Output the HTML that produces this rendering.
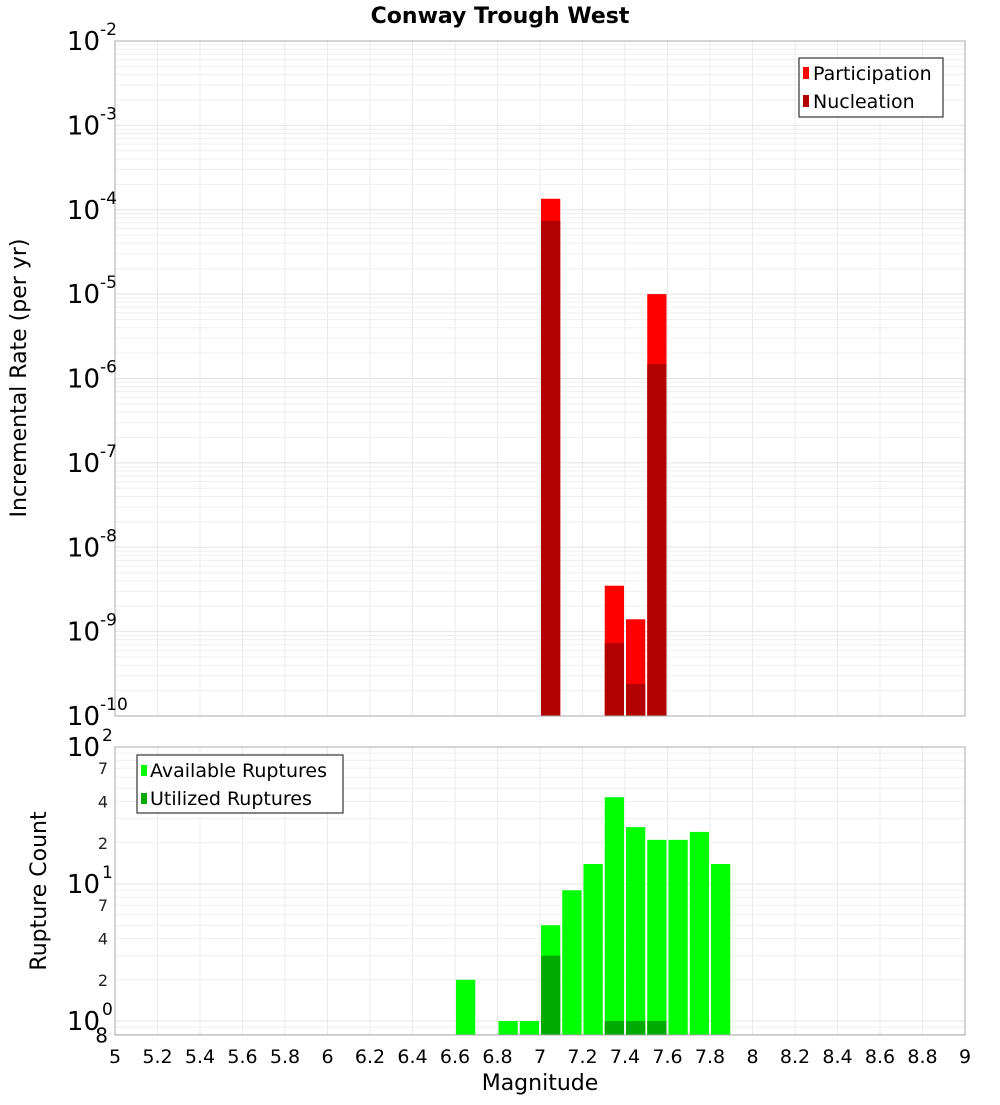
<!DOCTYPE html>
<html><head><meta charset="utf-8"><style>
body{margin:0;background:#fff;}
svg text{font-family:"DejaVu Sans","Liberation Sans",sans-serif;}
</style></head><body>
<svg id="c" width="1000" height="1100" xmlns="http://www.w3.org/2000/svg">
<text x="500" y="23" text-anchor="middle" font-size="22" font-weight="bold">Conway Trough West</text>
<g id="topPlot"></g>
<g id="botPlot"></g>
<text transform="translate(26,378) rotate(-90)" text-anchor="middle" font-size="22">Incremental Rate (per yr)</text>
<text transform="translate(46,891) rotate(-90)" text-anchor="middle" font-size="22">Rupture Count</text>
<text x="540" y="1090" text-anchor="middle" font-size="22">Magnitude</text>
<g>
<rect x="799" y="58" width="144" height="59" fill="#fff" stroke="#333" stroke-width="1.2"/>
<rect x="803" y="67" width="6" height="12" fill="#ff0000"/>
<text x="813" y="80" font-size="19">Participation</text>
<rect x="803" y="95" width="6" height="12" fill="#b30000"/>
<text x="813" y="108" font-size="19">Nucleation</text>
</g>
<g>
<rect x="137" y="755" width="206" height="58" fill="#fff" stroke="#333" stroke-width="1.2"/>
<rect x="141" y="765" width="6" height="11" fill="#00ff00"/>
<text x="150" y="777" font-size="19">Available Ruptures</text>
<rect x="141" y="793" width="6" height="11" fill="#00aa00"/>
<text x="150" y="805" font-size="19">Utilized Ruptures</text>
</g>
</svg>
<script>
const topMags=[7.05,7.35,7.45,7.55];
const participation=[1.35e-4,3.5e-9,1.4e-9,1.0e-5];
const nucleation=[7.4e-5,7.3e-10,2.4e-10,1.48e-6];
const botMags=[6.65,6.85,6.95,7.05,7.15,7.25,7.35,7.45,7.55,7.65,7.75,7.85];
const available=[2,1,1,5,9,14,43,26,21,21,24,14];
const utilMags=[7.05,7.35,7.45,7.55];
const utilized=[3,1,1,1];
const xTicks=[5,5.2,5.4,5.6,5.8,6,6.2,6.4,6.6,6.8,7,7.2,7.4,7.6,7.8,8,8.2,8.4,8.6,8.8,9];

const NS="http://www.w3.org/2000/svg";
const L=115,R=965;
const xs=m=>L+(m-5)/4*(R-L);
const T1=41,B1=716;
const yTop=v=>B1-(Math.log10(v)+10)/8*(B1-T1);
const T2=747,B2=1035,D2=137;
const yBot=v=>(T2+2*D2)-Math.log10(v)*D2;
function el(p,tag,a,txt){const e=document.createElementNS(NS,tag);for(const k in a)e.setAttribute(k,a[k]);if(txt!==undefined)e.textContent=txt;p.appendChild(e);return e;}
const topG=document.getElementById('topPlot'),botG=document.getElementById('botPlot');
function grid(g,t,b,yf,dmin,dmax){
  for(const m of xTicks){const l=el(g,'line',{x1:xs(m),x2:xs(m),y1:t,y2:b,stroke:'#ebebeb'});}
  for(let d=dmin;d<=dmax;d++)for(let k=1;k<10;k++){const yy=yf(k*Math.pow(10,d));if(yy<t-0.5||yy>b+0.5)continue;const l=el(g,'line',{x1:L,x2:R,y1:yy,y2:yy,stroke:k==1?'#e4e4e4':'#efefef'});}
}
grid(topG,T1,B1,yTop,-10,-2);
grid(botG,T2,B2,yBot,-1,2);
const bw=(xs(5.1)-xs(5))-2;
topMags.forEach((m,i)=>{
  const r=el(topG,'rect',{x:xs(m)-bw/2,y:yTop(participation[i]),width:bw,height:B1-yTop(participation[i]),fill:'#ff0000'});
  
  
  const n=el(topG,'rect',{x:xs(m)-bw/2,y:yTop(nucleation[i]),width:bw,height:B1-yTop(nucleation[i]),fill:'#b30000'});
  
  
});
botMags.forEach((m,i)=>{
  const r=el(botG,'rect',{x:xs(m)-bw/2,y:yBot(available[i]),width:bw,height:B2-yBot(available[i]),fill:'#00ff00'});
  
  
});
utilMags.forEach((m,i)=>{
  const r=el(botG,'rect',{x:xs(m)-bw/2,y:yBot(utilized[i]),width:bw,height:B2-yBot(utilized[i]),fill:'#00aa00'});
  
  
});
let f=el(topG,'rect',{x:L,y:T1,width:R-L,height:B1-T1,fill:'none',stroke:'#aaa'});


f=el(botG,'rect',{x:L,y:T2,width:R-L,height:B2-T2,fill:'none',stroke:'#aaa'});


for(let d=-10;d<=-2;d++){
  const yy=yTop(Math.pow(10,d));
  const t=el(topG,'text',{x:100,y:yy+9,'text-anchor':'end','font-size':26},'10');
  
  
  el(topG,'text',{x:100,y:yy-6,'font-size':17},String(d));
}
for(let d=0;d<=2;d++){
  const yy=yBot(Math.pow(10,d));
  const t=el(botG,'text',{x:100,y:yy+9,'text-anchor':'end','font-size':26},'10');
  
  
  el(botG,'text',{x:102,y:yy-6,'font-size':17},String(d));
  if(d<2)for(const k of [2,4,7]){
    const t2=el(botG,'text',{x:108,y:yBot(k*Math.pow(10,d))+6,'text-anchor':'end','font-size':16,fill:'#222'},String(k));
    
    
  }
}
el(botG,'text',{x:108,y:yBot(0.8)+8,'text-anchor':'end','font-size':20},'8');
for(const m of xTicks){
  const t=el(botG,'text',{x:xs(m),y:1063,'text-anchor':'middle','font-size':19},String(m));
  
  
}
</script>
</body></html>
